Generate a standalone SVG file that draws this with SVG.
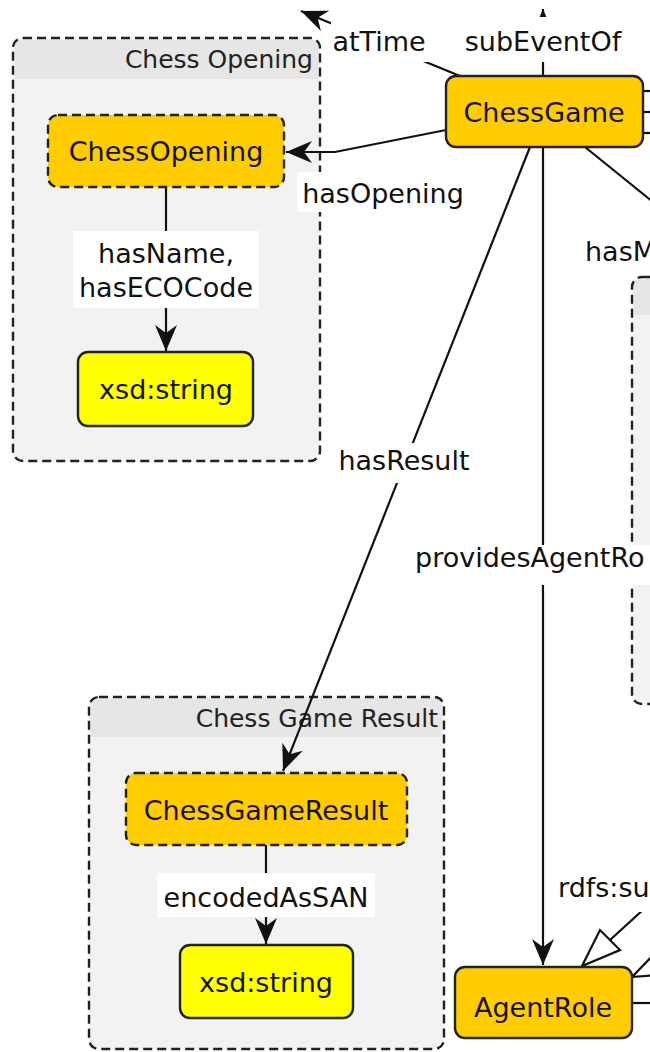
<svg xmlns="http://www.w3.org/2000/svg" width="650" height="1052" viewBox="0 0 650 1052">
<style>
  text { font-family: "DejaVu Sans", "Liberation Sans", sans-serif; fill: #111; }
  .lbl { font-size: 27px; text-anchor: middle; }
  .lbs { font-size: 27px; text-anchor: start; }
  .node { font-size: 27px; text-anchor: middle; }
  .title { font-size: 25px; text-anchor: end; fill: #222; }
  .grp { fill: #f2f2f2; stroke: none; }
  .grpb { fill: none; stroke: #222; stroke-width: 2.4; stroke-dasharray: 9,5; }
  .hdr { fill: #e6e6e6; }
  .cls { fill: #ffcc00; stroke: #222; stroke-width: 2.4; }
  .ext { fill: #ffcc00; stroke: #222; stroke-width: 2.4; stroke-dasharray: 9,5; }
  .lit { fill: #ffff00; stroke: #222; stroke-width: 2.4; }
  .edge { fill: none; stroke: #111; stroke-width: 2.2; }
  .lb { fill: #ffffff; }
  .hollow { fill: #ffffff; stroke: #111; stroke-width: 2.2; stroke-linejoin: miter; }
</style>
<defs>
  <marker id="arr" markerUnits="userSpaceOnUse" markerWidth="30" markerHeight="26" viewBox="-28 -13 30 26" refX="0" refY="0" orient="auto" overflow="visible">
    <path d="M0,0 L-26,-11 L-18,0 L-26,11 Z" fill="#111"/>
  </marker>
</defs>

<!-- groups (containers) -->
<g id="group-chess-opening">
  <rect class="grp" x="13" y="38" width="307" height="423" rx="10"/>
  <path class="hdr" d="M15,48 Q15,40 23,40 L318,40 L318,79 L15,79 Z"/>
  <rect class="grpb" x="13" y="38" width="307" height="423" rx="10"/>
  <text class="title" x="313" y="68">Chess Opening</text>
</g>
<g id="group-chess-game-result">
  <rect class="grp" x="89" y="697" width="355" height="352" rx="10"/>
  <path class="hdr" d="M91,707 Q91,699 99,699 L442,699 L442,737 L91,737 Z"/>
  <rect class="grpb" x="89" y="697" width="355" height="352" rx="10"/>
  <text class="title" x="438" y="727">Chess Game Result</text>
</g>
<g id="group-right">
  <rect class="grp" x="632" y="277" width="60" height="427" rx="10"/>
  <path class="hdr" d="M634,287 Q634,279 642,279 L690,279 L690,315 L634,315 Z"/>
  <rect class="grpb" x="632" y="277" width="60" height="427" rx="10"/>
</g>

<!-- connectors -->
<g id="connectors">
  <line class="edge" x1="460" y1="76" x2="301" y2="11" marker-end="url(#arr)"/>
  <line class="edge" x1="543" y1="76" x2="543" y2="9" marker-end="url(#arr)"/>
  <polyline class="edge" points="446,130 335,152 286,152" marker-end="url(#arr)"/>
  <line class="edge" x1="166" y1="187" x2="166" y2="351" marker-end="url(#arr)"/>
  <line class="edge" x1="530" y1="147" x2="283" y2="771" marker-end="url(#arr)"/>
  <line class="edge" x1="543" y1="147" x2="543" y2="965" marker-end="url(#arr)"/>
  <line class="edge" x1="585" y1="147" x2="700" y2="240"/>
  <line class="edge" x1="643" y1="91" x2="660" y2="91"/>
  <line class="edge" x1="643" y1="112" x2="660" y2="112"/>
  <line class="edge" x1="643" y1="133" x2="660" y2="133"/>
  <line class="edge" x1="266" y1="845" x2="266" y2="944" marker-end="url(#arr)"/>
  <line class="edge" x1="610" y1="940" x2="680" y2="876"/>
  <polygon class="hollow" points="582,966 600,930 620,950"/>
  <line class="edge" x1="666" y1="961" x2="700" y2="945"/>
  <polygon class="hollow" points="632,977 672,974 660,948"/>
  <line class="edge" x1="632" y1="1003" x2="660" y2="1003"/>
  <!-- edge labels -->
  <rect class="lb" x="331" y="20" width="98" height="42"/>
  <text class="lbl" x="379" y="51">atTime</text>
  <rect class="lb" x="461" y="17" width="165" height="45"/>
  <text class="lbl" x="543" y="51">subEventOf</text>
  <rect class="lb" x="297" y="172" width="173" height="40"/>
  <text class="lbl" x="383" y="203">hasOpening</text>
  <rect class="lb" x="73" y="231" width="186" height="77"/>
  <text class="lbl" x="166" y="263">hasName,</text>
  <text class="lbl" x="166" y="297">hasECOCode</text>
  <rect class="lb" x="581" y="232" width="80" height="40"/>
  <text class="lbs" x="585" y="261">hasM</text>
  <rect class="lb" x="336" y="443" width="136" height="40"/>
  <text class="lbl" x="404" y="470">hasResult</text>
  <rect class="lb" x="411" y="545" width="250" height="40"/>
  <text class="lbs" x="415" y="567">providesAgentRo</text>
  <rect class="lb" x="157" y="873" width="218" height="44"/>
  <text class="lbl" x="266" y="907">encodedAsSAN</text>
  <rect class="lb" x="554" y="872" width="100" height="40"/>
  <text class="lbs" x="558" y="897">rdfs:su</text>
</g>

<!-- nodes -->
<g id="node-chessgame">
  <rect class="cls" x="446" y="76" width="197" height="71" rx="10"/>
  <text class="node" x="544" y="122">ChessGame</text>
</g>
<g id="node-chessopening">
  <rect class="ext" x="48" y="115" width="236" height="72" rx="10"/>
  <text class="node" x="166" y="161">ChessOpening</text>
</g>
<g id="node-xsdstring-opening">
  <rect class="lit" x="78" y="352" width="175" height="74" rx="10"/>
  <text class="node" x="166" y="399">xsd:string</text>
</g>
<g id="node-chessgameresult">
  <rect class="ext" x="126" y="773" width="281" height="72" rx="10"/>
  <text class="node" x="266" y="820">ChessGameResult</text>
</g>
<g id="node-xsdstring-result">
  <rect class="lit" x="180" y="945" width="173" height="73" rx="10"/>
  <text class="node" x="266" y="992">xsd:string</text>
</g>
<g id="node-agentrole">
  <rect class="cls" x="455" y="967" width="177" height="71" rx="10"/>
  <text class="node" x="543" y="1017">AgentRole</text>
</g>
</svg>
